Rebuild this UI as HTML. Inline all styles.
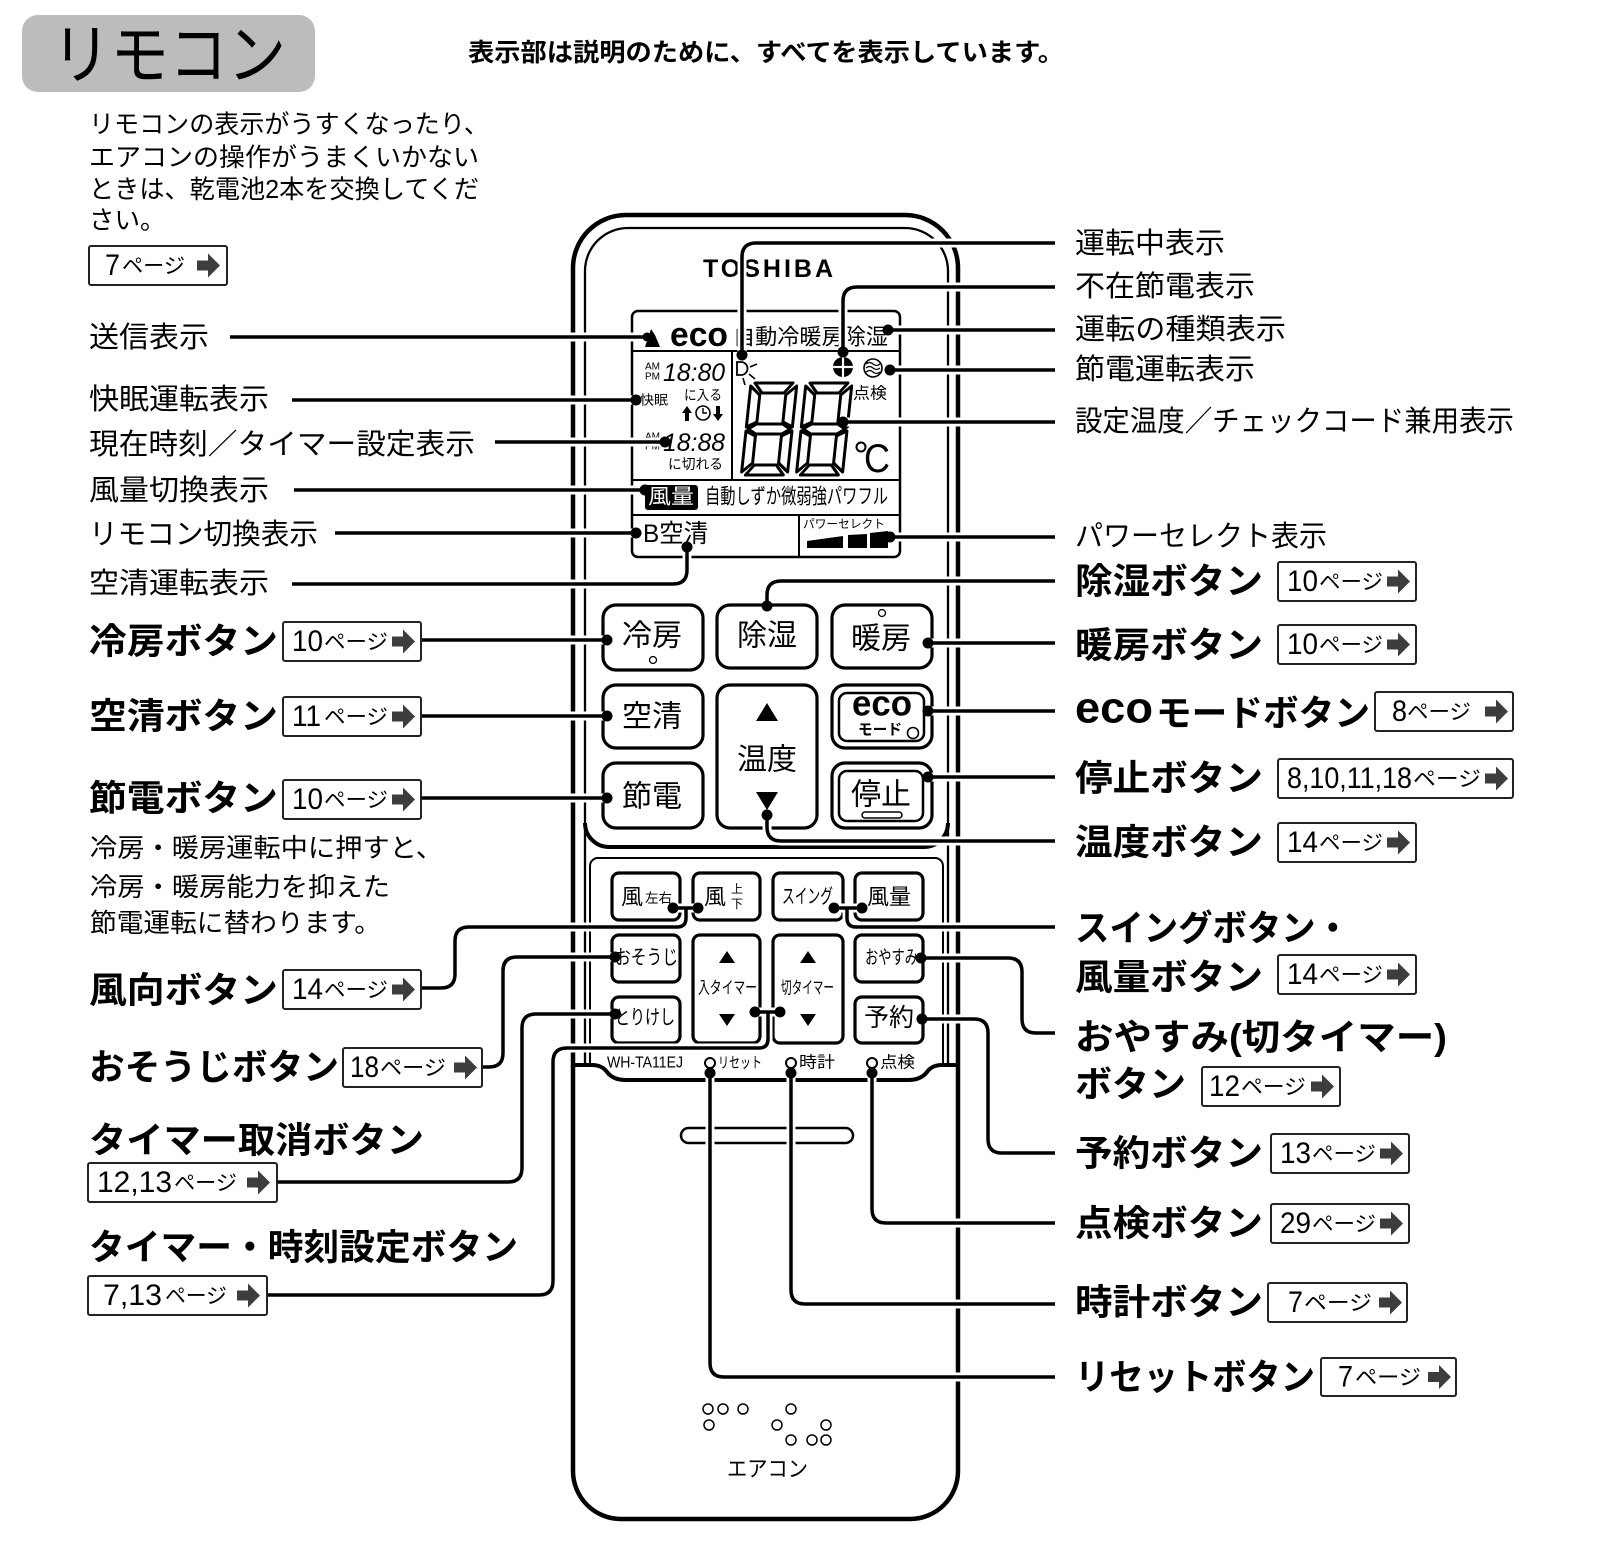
<!DOCTYPE html>
<html><head><meta charset="utf-8">
<style>
html,body{margin:0;padding:0;background:#fff;}
svg{display:block;}
text{font-family:"Liberation Sans","Noto Sans CJK JP",sans-serif;dominant-baseline:central;fill:#000;}
.b{font-weight:bold;}
.m{text-anchor:middle;}
.ln{fill:none;stroke:#000;stroke-width:3.5;stroke-linejoin:round;}
.halo{fill:none;stroke:#fff;stroke-width:9;stroke-linejoin:round;}
.th{fill:none;stroke:#000;stroke-width:4.5;}
.tn{fill:none;stroke:#000;stroke-width:2.3;}
.btn{fill:#fff;stroke:#000;stroke-width:3.2;}
.seg{fill:#fff;stroke:#000;stroke-width:3;stroke-linejoin:round;}
.pb{fill:#fff;stroke:#222;stroke-width:2;}
.ar{fill:#3d3d3d;}
.hole{fill:#fff;stroke:#000;stroke-width:1.5;}
</style></head><body>
<svg width="1606" height="1548" viewBox="0 0 1606 1548" xmlns="http://www.w3.org/2000/svg">

<!-- Title -->
<rect x="22" y="15" width="293" height="77" rx="16" fill="#bcbcbc"/>
<text x="52" y="55" font-size="66" textLength="234" lengthAdjust="spacingAndGlyphs">リモコン</text>
<text x="468" y="53" font-size="25" class="b" textLength="596" lengthAdjust="spacingAndGlyphs">表示部は説明のために、すべてを表示しています。</text>

<!-- Paragraph -->
<text x="89" y="125" font-size="25.5" textLength="400" lengthAdjust="spacingAndGlyphs">リモコンの表示がうすくなったり、</text>
<text x="89" y="158" font-size="25.5" textLength="390" lengthAdjust="spacingAndGlyphs">エアコンの操作がうまくいかない</text>
<text x="89" y="190" font-size="25.5" textLength="390" lengthAdjust="spacingAndGlyphs">ときは、乾電池2本を交換してくだ</text>
<text x="89" y="221" font-size="25.5">さい。</text>

<!-- ============ REMOTE BODY ============ -->
<path class="th" d="M573,268 A53,53 0 0 1 626,215 H905 A53,53 0 0 1 958,268 V1471 A48,48 0 0 1 910,1519 H621 A48,48 0 0 1 573,1471 Z" style="fill:#fff"/>
<path class="tn" d="M585,1065 V271 A43,43 0 0 1 628,228 H905 A43,43 0 0 1 948,271 V1065"/>
<path class="th" style="stroke-width:4" d="M585,823 A24,24 0 0 0 609,847 H924 A24,24 0 0 0 948,823"/>
<path class="tn" style="stroke-width:2" d="M590,1065 V866 A8,8 0 0 1 598,858 H935 A8,8 0 0 1 943,866 V1065"/>
<path class="th" style="stroke-width:4" d="M573,1065 H592 Q602,1065 607,1072 Q613,1080 626,1080 H908 Q921,1080 927,1072 Q932,1065 942,1065 H958"/>

<text x="703" y="269" font-size="25" class="b" textLength="130" lengthAdjust="spacing">TOSHIBA</text>

<!-- LCD -->
<rect x="632" y="311" width="268" height="246" rx="6" fill="#fff" stroke="#000" stroke-width="2.5"/>
<path d="M632,351 H900 M732,351 V480 M632,480 H900 M632,515 H900 M799,515 V557" stroke="#000" stroke-width="2" fill="none"/>
<polygon points="645,347 651,329 655,335 660,347" fill="#000"/>
<text x="670" y="335" font-size="34" class="b" textLength="58" lengthAdjust="spacingAndGlyphs">eco</text>
<text x="733" y="337" font-size="22" textLength="155" lengthAdjust="spacingAndGlyphs">自動冷暖房除湿</text>

<text x="645" y="367" font-size="10" textLength="15" lengthAdjust="spacingAndGlyphs">AM</text>
<text x="645" y="377" font-size="10" textLength="15" lengthAdjust="spacingAndGlyphs">PM</text>
<text x="663" y="373" font-size="25" font-style="italic" textLength="62" lengthAdjust="spacingAndGlyphs">18:80</text>
<text x="640" y="400" font-size="13" textLength="28" lengthAdjust="spacingAndGlyphs">快眠</text>
<text x="684" y="395" font-size="14" textLength="38" lengthAdjust="spacingAndGlyphs">に入る</text>
<polygon points="687,406 682,413 685,413 685,421 689,421 689,413 692,413" fill="#000"/>
<circle cx="703" cy="413" r="7" fill="none" stroke="#000" stroke-width="1.6"/>
<path d="M703,408 V413 H707" stroke="#000" stroke-width="1.4" fill="none"/>
<polygon points="718,421 713,414 716,414 716,406 720,406 720,414 723,414" fill="#000"/>
<text x="645" y="437" font-size="10" textLength="15" lengthAdjust="spacingAndGlyphs">AM</text>
<text x="645" y="447" font-size="10" textLength="15" lengthAdjust="spacingAndGlyphs">PM</text>
<text x="663" y="443" font-size="25" font-style="italic" textLength="62" lengthAdjust="spacingAndGlyphs">18:88</text>
<text x="668" y="464" font-size="14" textLength="55" lengthAdjust="spacingAndGlyphs">に切れる</text>

<!-- running icon -->
<path d="M737,362 H741 A6,6 0 0 1 741,375 H737 Z" fill="none" stroke="#000" stroke-width="1.8"/>
<path d="M750,367 L757,364 M749,374 L755,379 M743,378 L745,385" stroke="#000" stroke-width="1.6"/>
<!-- absent icon -->
<circle cx="843" cy="367" r="10" fill="#000"/>
<path d="M833,367 H853 M843,357 V377" stroke="#fff" stroke-width="2.2"/>
<!-- wave icon -->
<circle cx="873" cy="368" r="9" fill="#fff" stroke="#000" stroke-width="1.6"/>
<path d="M866,364 q3.5,-3 7,0 t7,0 M866,368 q3.5,-3 7,0 t7,0 M866,372 q3.5,-3 7,0 t7,0" fill="none" stroke="#000" stroke-width="1.2"/>
<text x="853" y="394" font-size="16" textLength="34" lengthAdjust="spacingAndGlyphs">点検</text>

<!-- big 88 -->
<g transform="translate(751,383) skewX(-6)">
<polygon class="seg" points="4,0 42,0 34,10 12,10"/>
<polygon class="seg" points="0,3 10,12 10,39 0,44"/>
<polygon class="seg" points="46,3 46,44 36,39 36,12"/>
<polygon class="seg" points="2,46 10,41 36,41 44,46 36,51 10,51"/>
<polygon class="seg" points="0,48 10,53 10,80 0,89"/>
<polygon class="seg" points="46,48 46,89 36,80 36,53"/>
<polygon class="seg" points="12,82 34,82 42,92 4,92"/>
</g>
<g transform="translate(806,383) skewX(-6)">
<polygon class="seg" points="4,0 42,0 34,10 12,10"/>
<polygon class="seg" points="0,3 10,12 10,39 0,44"/>
<polygon class="seg" points="46,3 46,44 36,39 36,12"/>
<polygon class="seg" points="2,46 10,41 36,41 44,46 36,51 10,51"/>
<polygon class="seg" points="0,48 10,53 10,80 0,89"/>
<polygon class="seg" points="46,48 46,89 36,80 36,53"/>
<polygon class="seg" points="12,82 34,82 42,92 4,92"/>
</g>
<circle cx="861" cy="447" r="4.5" fill="none" stroke="#000" stroke-width="2"/>
<text x="864" y="459" font-size="40" textLength="26" lengthAdjust="spacingAndGlyphs">C</text>

<rect x="645" y="485" width="53" height="25" rx="3" fill="#000"/>
<text x="671" y="497" font-size="21" class="m" style="fill:#fff" textLength="46" lengthAdjust="spacingAndGlyphs">風量</text>
<text x="705" y="497" font-size="21" textLength="183" lengthAdjust="spacingAndGlyphs">自動しずか微弱強パワフル</text>
<text x="643" y="534" font-size="25" textLength="65" lengthAdjust="spacingAndGlyphs">B空清</text>
<text x="803" y="524" font-size="12" textLength="82" lengthAdjust="spacingAndGlyphs">パワーセレクト</text>
<polygon points="807,541 843,536 843,548 807,548" fill="#000"/>
<polygon points="848,535 867,534 867,548 848,548" fill="#000"/>
<polygon points="870,533 888,531 888,548 870,548" fill="#000"/>

<!-- upper buttons -->
<rect class="btn" x="603" y="605" width="100" height="65" rx="13"/>
<rect class="btn" x="717" y="605" width="100" height="63" rx="13"/>
<rect class="btn" x="832" y="605" width="100" height="63" rx="13"/>
<rect class="btn" x="603" y="685" width="100" height="63" rx="13"/>
<rect class="btn" x="717" y="685" width="100" height="143" rx="13"/>
<rect class="btn" x="832" y="685" width="100" height="63" rx="13"/>
<rect class="btn" x="839" y="693" width="85" height="48" rx="8" style="stroke-width:2.5"/>
<rect class="btn" x="603" y="763" width="100" height="65" rx="13"/>
<rect class="btn" x="832" y="763" width="100" height="65" rx="13"/>
<rect class="btn" x="839" y="771" width="84" height="50" rx="8" style="stroke-width:2.5"/>

<text x="652" y="636" font-size="30" class="m">冷房</text>
<circle cx="653" cy="660" r="3.5" fill="none" stroke="#000" stroke-width="1.3"/>
<text x="767" y="636" font-size="30" class="m">除湿</text>
<text x="881" y="639" font-size="30" class="m">暖房</text>
<circle cx="882" cy="613" r="3.5" fill="none" stroke="#000" stroke-width="1.3"/>
<text x="652" y="717" font-size="30" class="m">空清</text>
<polygon points="756,721 778,721 767,703" fill="#000"/>
<text x="767" y="760" font-size="30" class="m">温度</text>
<polygon points="756,792 778,792 767,810" fill="#000"/>
<text x="882" y="703" font-size="36" class="b m" textLength="60" lengthAdjust="spacingAndGlyphs">eco</text>
<text x="858" y="730" font-size="15" class="b" textLength="44" lengthAdjust="spacingAndGlyphs">モード</text>
<circle cx="913" cy="733" r="5.5" fill="none" stroke="#000" stroke-width="1.6"/>
<text x="652" y="797" font-size="30" class="m">節電</text>
<text x="881" y="795" font-size="30" class="m">停止</text>
<rect x="862" y="812" width="40" height="6" rx="3" fill="none" stroke="#000" stroke-width="1.5"/>

<!-- lower buttons -->
<rect class="btn" x="612" y="873" width="68" height="47" rx="7"/>
<rect class="btn" x="693" y="873" width="67" height="47" rx="7"/>
<rect class="btn" x="773" y="873" width="70" height="47" rx="7"/>
<rect class="btn" x="855" y="873" width="68" height="47" rx="7"/>
<rect class="btn" x="612" y="935" width="68" height="47" rx="7"/>
<rect class="btn" x="693" y="935" width="67" height="108" rx="7"/>
<rect class="btn" x="773" y="935" width="70" height="108" rx="7"/>
<rect class="btn" x="855" y="935" width="68" height="47" rx="7"/>
<rect class="btn" x="612" y="997" width="68" height="46" rx="7"/>
<rect class="btn" x="855" y="997" width="68" height="46" rx="7"/>

<text x="632" y="897" font-size="22" class="m">風</text>
<text x="645" y="898" font-size="13" textLength="27" lengthAdjust="spacingAndGlyphs">左右</text>
<text x="715" y="897" font-size="22" class="m">風</text>
<text x="737" y="889" font-size="12" class="m">上</text>
<text x="737" y="904" font-size="12" class="m">下</text>
<text x="782" y="897" font-size="20" textLength="51" lengthAdjust="spacingAndGlyphs">スイング</text>
<text x="889" y="897" font-size="22" class="m">風量</text>
<text x="615" y="958" font-size="20" textLength="63" lengthAdjust="spacingAndGlyphs">おそうじ</text>
<polygon points="719,963 735,963 727,951" fill="#000"/>
<text x="698" y="988" font-size="17" textLength="59" lengthAdjust="spacingAndGlyphs">入タイマー</text>
<polygon points="719,1014 735,1014 727,1026" fill="#000"/>
<polygon points="800,963 816,963 808,951" fill="#000"/>
<text x="781" y="988" font-size="17" textLength="53" lengthAdjust="spacingAndGlyphs">切タイマー</text>
<polygon points="800,1014 816,1014 808,1026" fill="#000"/>
<text x="865" y="958" font-size="19" textLength="53" lengthAdjust="spacingAndGlyphs">おやすみ</text>
<text x="615" y="1018" font-size="20" textLength="60" lengthAdjust="spacingAndGlyphs">とりけし</text>
<text x="889" y="1018" font-size="25" class="m">予約</text>

<text x="607" y="1063" font-size="16" textLength="76" lengthAdjust="spacingAndGlyphs">WH-TA11EJ</text>
<circle cx="710" cy="1063" r="5" fill="none" stroke="#000" stroke-width="2"/>
<text x="718" y="1063" font-size="15" textLength="44" lengthAdjust="spacingAndGlyphs">リセット</text>
<circle cx="791" cy="1063" r="5" fill="none" stroke="#000" stroke-width="2"/>
<text x="799" y="1063" font-size="16" textLength="36" lengthAdjust="spacingAndGlyphs">時計</text>
<circle cx="872" cy="1063" r="5" fill="none" stroke="#000" stroke-width="2"/>
<text x="880" y="1063" font-size="16" textLength="35" lengthAdjust="spacingAndGlyphs">点検</text>

<rect x="681" y="1128" width="172" height="15" rx="7.5" fill="none" stroke="#000" stroke-width="2.5"/>

<circle class="hole" cx="708" cy="1409" r="5"/>
<circle class="hole" cx="723" cy="1409" r="5"/>
<circle class="hole" cx="743" cy="1409" r="5"/>
<circle class="hole" cx="709" cy="1425" r="5"/>
<circle class="hole" cx="791" cy="1409" r="5"/>
<circle class="hole" cx="777" cy="1425" r="5"/>
<circle class="hole" cx="826" cy="1425" r="5"/>
<circle class="hole" cx="791" cy="1440" r="5"/>
<circle class="hole" cx="812" cy="1440" r="5"/>
<circle class="hole" cx="826" cy="1440" r="5"/>
<text x="727" y="1469" font-size="22" textLength="81" lengthAdjust="spacingAndGlyphs">エアコン</text>

<!-- ============ CONNECTORS ============ -->
<g class="halo">
<path d="M230,337 H648"/>
<path d="M292,400 H636"/>
<path d="M495,442 H665"/>
<path d="M294,490 H645"/>
<path d="M335,533 H636"/>
<path d="M292,584 H673 Q687,584 687,570 V547"/>
<path d="M421,640 H607"/>
<path d="M421,716 H607"/>
<path d="M421,798 H607"/>
<path d="M421,988 H441 Q455,988 455,974 V941 Q455,927 469,927 H677 Q686,927 686,918 V908 M673,908 H698"/>
<path d="M482,1067 H489 Q503,1067 503,1053 V971 Q503,957 517,957 H615"/>
<path d="M277,1182 H508 Q522,1182 522,1168 V1028 Q522,1014 536,1014 H615"/>
<path d="M267,1295 H539 Q553,1295 553,1281 V1062 Q553,1048 567,1048 H759 Q768,1048 768,1039 V1012 M755,1012 H780"/>
<path d="M1055,243 H756 Q742,243 742,257 V355"/>
<path d="M1055,287 H857 Q843,287 843,301 V352"/>
<path d="M1055,330 H888"/>
<path d="M1055,370 H890"/>
<path d="M1055,422 H843"/>
<path d="M1055,537 H890"/>
<path d="M1055,581 H781 Q767,581 767,595 V606"/>
<path d="M1055,643 H928"/>
<path d="M1055,711 H928"/>
<path d="M1055,777 H928"/>
<path d="M1055,841 H781 Q767,841 767,827 V815"/>
<path d="M1055,927 H856 Q847,927 847,918 V908 M834,908 H862"/>
<path d="M921,958 H1008 Q1022,958 1022,972 V1019 Q1022,1033 1036,1033 H1055"/>
<path d="M922,1019 H974 Q988,1019 988,1033 V1139 Q988,1153 1002,1153 H1055"/>
<path d="M872,1073 V1209 Q872,1223 886,1223 H1055"/>
<path d="M791,1073 V1290 Q791,1304 805,1304 H1055"/>
<path d="M710,1073 V1363 Q710,1377 724,1377 H1055"/>
</g>
<g class="ln">
<path d="M230,337 H648"/>
<path d="M292,400 H636"/>
<path d="M495,442 H665"/>
<path d="M294,490 H645"/>
<path d="M335,533 H636"/>
<path d="M292,584 H673 Q687,584 687,570 V547"/>
<path d="M421,640 H607"/>
<path d="M421,716 H607"/>
<path d="M421,798 H607"/>
<path d="M421,988 H441 Q455,988 455,974 V941 Q455,927 469,927 H677 Q686,927 686,918 V908 M673,908 H698"/>
<path d="M482,1067 H489 Q503,1067 503,1053 V971 Q503,957 517,957 H615"/>
<path d="M277,1182 H508 Q522,1182 522,1168 V1028 Q522,1014 536,1014 H615"/>
<path d="M267,1295 H539 Q553,1295 553,1281 V1062 Q553,1048 567,1048 H759 Q768,1048 768,1039 V1012 M755,1012 H780"/>
<path d="M1055,243 H756 Q742,243 742,257 V355"/>
<path d="M1055,287 H857 Q843,287 843,301 V352"/>
<path d="M1055,330 H888"/>
<path d="M1055,370 H890"/>
<path d="M1055,422 H843"/>
<path d="M1055,537 H890"/>
<path d="M1055,581 H781 Q767,581 767,595 V606"/>
<path d="M1055,643 H928"/>
<path d="M1055,711 H928"/>
<path d="M1055,777 H928"/>
<path d="M1055,841 H781 Q767,841 767,827 V815"/>
<path d="M1055,927 H856 Q847,927 847,918 V908 M834,908 H862"/>
<path d="M921,958 H1008 Q1022,958 1022,972 V1019 Q1022,1033 1036,1033 H1055"/>
<path d="M922,1019 H974 Q988,1019 988,1033 V1139 Q988,1153 1002,1153 H1055"/>
<path d="M872,1073 V1209 Q872,1223 886,1223 H1055"/>
<path d="M791,1073 V1290 Q791,1304 805,1304 H1055"/>
<path d="M710,1073 V1363 Q710,1377 724,1377 H1055"/>
</g>
<g fill="#000">
<circle cx="647" cy="337" r="4.5"/>
<circle cx="636" cy="400" r="5.5"/>
<circle cx="665" cy="442" r="5.5"/>
<circle cx="645" cy="490" r="5.5"/>
<circle cx="636" cy="533" r="5.5"/>
<circle cx="687" cy="547" r="5.5"/>
<circle cx="607" cy="640" r="5.5"/>
<circle cx="607" cy="716" r="5.5"/>
<circle cx="607" cy="798" r="5.5"/>
<circle cx="673" cy="908" r="5.5"/>
<circle cx="698" cy="908" r="5.5"/>
<circle cx="615" cy="957" r="5.5"/>
<circle cx="615" cy="1014" r="5.5"/>
<circle cx="755" cy="1012" r="5.5"/>
<circle cx="780" cy="1012" r="5.5"/>
<circle cx="742" cy="355" r="5.5"/>
<circle cx="843" cy="352" r="5.5"/>
<circle cx="888" cy="330" r="5.5"/>
<circle cx="890" cy="370" r="5.5"/>
<circle cx="843" cy="422" r="5.5"/>
<circle cx="890" cy="537" r="5.5"/>
<circle cx="767" cy="606" r="5.5"/>
<circle cx="928" cy="643" r="5.5"/>
<circle cx="928" cy="711" r="5.5"/>
<circle cx="928" cy="777" r="5.5"/>
<circle cx="767" cy="815" r="5.5"/>
<circle cx="834" cy="908" r="5.5"/>
<circle cx="862" cy="908" r="5.5"/>
<circle cx="921" cy="958" r="5.5"/>
<circle cx="922" cy="1019" r="5.5"/>
<circle cx="872" cy="1073" r="5.5"/>
<circle cx="791" cy="1073" r="5.5"/>
<circle cx="710" cy="1073" r="5.5"/>
</g>

<!-- ============ LEFT LABELS ============ -->
<text x="89" y="338" font-size="29" textLength="120" lengthAdjust="spacingAndGlyphs">送信表示</text>
<text x="89" y="400" font-size="29" textLength="180" lengthAdjust="spacingAndGlyphs">快眠運転表示</text>
<text x="89" y="445" font-size="29" textLength="386" lengthAdjust="spacingAndGlyphs">現在時刻／タイマー設定表示</text>
<text x="89" y="491" font-size="29" textLength="180" lengthAdjust="spacingAndGlyphs">風量切換表示</text>
<text x="89" y="535" font-size="29" textLength="229" lengthAdjust="spacingAndGlyphs">リモコン切換表示</text>
<text x="89" y="584" font-size="29" textLength="180" lengthAdjust="spacingAndGlyphs">空清運転表示</text>

<text x="89" y="641" font-size="36" class="b" textLength="189" lengthAdjust="spacingAndGlyphs">冷房ボタン</text>
<text x="89" y="716" font-size="36" class="b" textLength="189" lengthAdjust="spacingAndGlyphs">空清ボタン</text>
<text x="89" y="798" font-size="36" class="b" textLength="189" lengthAdjust="spacingAndGlyphs">節電ボタン</text>
<text x="90" y="848" font-size="26" textLength="353" lengthAdjust="spacingAndGlyphs">冷房・暖房運転中に押すと、</text>
<text x="90" y="887" font-size="26" textLength="300" lengthAdjust="spacingAndGlyphs">冷房・暖房能力を抑えた</text>
<text x="90" y="923" font-size="26" textLength="291" lengthAdjust="spacingAndGlyphs">節電運転に替わります。</text>
<text x="89" y="990" font-size="36" class="b" textLength="189" lengthAdjust="spacingAndGlyphs">風向ボタン</text>
<text x="89" y="1067" font-size="36" class="b" textLength="250" lengthAdjust="spacingAndGlyphs">おそうじボタン</text>
<text x="89" y="1140" font-size="36" class="b" textLength="335" lengthAdjust="spacingAndGlyphs">タイマー取消ボタン</text>
<text x="89" y="1247" font-size="36" class="b" textLength="429" lengthAdjust="spacingAndGlyphs">タイマー・時刻設定ボタン</text>

<!-- ============ RIGHT LABELS ============ -->
<text x="1075" y="244" font-size="29" textLength="150" lengthAdjust="spacingAndGlyphs">運転中表示</text>
<text x="1075" y="287" font-size="29" textLength="180" lengthAdjust="spacingAndGlyphs">不在節電表示</text>
<text x="1075" y="330" font-size="29" textLength="211" lengthAdjust="spacingAndGlyphs">運転の種類表示</text>
<text x="1075" y="370" font-size="29" textLength="180" lengthAdjust="spacingAndGlyphs">節電運転表示</text>
<text x="1075" y="422" font-size="29" textLength="439" lengthAdjust="spacingAndGlyphs">設定温度／チェックコード兼用表示</text>
<text x="1075" y="537" font-size="29" textLength="252" lengthAdjust="spacingAndGlyphs">パワーセレクト表示</text>

<text x="1075" y="581" font-size="36" class="b" textLength="188" lengthAdjust="spacingAndGlyphs">除湿ボタン</text>
<text x="1075" y="645" font-size="36" class="b" textLength="188" lengthAdjust="spacingAndGlyphs">暖房ボタン</text>
<text x="1075" y="708" font-size="44" class="b" textLength="78" lengthAdjust="spacingAndGlyphs">eco</text>
<text x="1156" y="713" font-size="36" class="b" textLength="214" lengthAdjust="spacingAndGlyphs">モードボタン</text>
<text x="1075" y="778" font-size="36" class="b" textLength="188" lengthAdjust="spacingAndGlyphs">停止ボタン</text>
<text x="1075" y="842" font-size="36" class="b" textLength="188" lengthAdjust="spacingAndGlyphs">温度ボタン</text>
<text x="1075" y="928" font-size="36" class="b" textLength="275" lengthAdjust="spacingAndGlyphs">スイングボタン・</text>
<text x="1075" y="977" font-size="36" class="b" textLength="188" lengthAdjust="spacingAndGlyphs">風量ボタン</text>
<text x="1075" y="1037" font-size="36" class="b" textLength="372" lengthAdjust="spacingAndGlyphs">おやすみ(切タイマー)</text>
<text x="1075" y="1084" font-size="36" class="b" textLength="111" lengthAdjust="spacingAndGlyphs">ボタン</text>
<text x="1075" y="1153" font-size="36" class="b" textLength="188" lengthAdjust="spacingAndGlyphs">予約ボタン</text>
<text x="1075" y="1223" font-size="36" class="b" textLength="188" lengthAdjust="spacingAndGlyphs">点検ボタン</text>
<text x="1075" y="1302" font-size="36" class="b" textLength="188" lengthAdjust="spacingAndGlyphs">時計ボタン</text>
<text x="1075" y="1377" font-size="36" class="b" textLength="240" lengthAdjust="spacingAndGlyphs">リセットボタン</text>

<!-- ============ PAGE BOXES ============ -->
<rect class="pb" x="89" y="246" width="138" height="39" rx="2"/>
<text x="105" y="265.5" font-size="30" textLength="15" lengthAdjust="spacingAndGlyphs">7</text>
<text x="122" y="266.5" font-size="21" textLength="63" lengthAdjust="spacingAndGlyphs">ページ</text>
<path class="ar" d="M197,260.5 h11 v-7 l12,12 l-12,12 v-7 h-11 z"/>

<rect class="pb" x="283" y="622" width="138" height="39" rx="2"/>
<text x="292" y="641.5" font-size="30" textLength="31" lengthAdjust="spacingAndGlyphs">10</text>
<text x="324" y="642.5" font-size="21" textLength="64" lengthAdjust="spacingAndGlyphs">ページ</text>
<path class="ar" d="M392,636.5 h11 v-7 l12,12 l-12,12 v-7 h-11 z"/>

<rect class="pb" x="283" y="697" width="138" height="39" rx="2"/>
<text x="292" y="716.5" font-size="30" textLength="29" lengthAdjust="spacingAndGlyphs">11</text>
<text x="324" y="717.5" font-size="21" textLength="64" lengthAdjust="spacingAndGlyphs">ページ</text>
<path class="ar" d="M392,711.5 h11 v-7 l12,12 l-12,12 v-7 h-11 z"/>

<rect class="pb" x="283" y="780" width="138" height="39" rx="2"/>
<text x="292" y="799.5" font-size="30" textLength="31" lengthAdjust="spacingAndGlyphs">10</text>
<text x="324" y="800.5" font-size="21" textLength="64" lengthAdjust="spacingAndGlyphs">ページ</text>
<path class="ar" d="M392,794.5 h11 v-7 l12,12 l-12,12 v-7 h-11 z"/>

<rect class="pb" x="283" y="970" width="138" height="39" rx="2"/>
<text x="292" y="989.5" font-size="30" textLength="31" lengthAdjust="spacingAndGlyphs">14</text>
<text x="324" y="990.5" font-size="21" textLength="64" lengthAdjust="spacingAndGlyphs">ページ</text>
<path class="ar" d="M392,984.5 h11 v-7 l12,12 l-12,12 v-7 h-11 z"/>

<rect class="pb" x="343" y="1048" width="139" height="39" rx="2"/>
<text x="350" y="1067.5" font-size="30" textLength="29" lengthAdjust="spacingAndGlyphs">18</text>
<text x="380" y="1068.5" font-size="21" textLength="66" lengthAdjust="spacingAndGlyphs">ページ</text>
<path class="ar" d="M454,1062.5 h11 v-7 l12,12 l-12,12 v-7 h-11 z"/>

<rect class="pb" x="88" y="1163" width="189" height="39" rx="2"/>
<text x="97" y="1182.5" font-size="30" textLength="75" lengthAdjust="spacingAndGlyphs">12,13</text>
<text x="174" y="1183.5" font-size="21" textLength="63" lengthAdjust="spacingAndGlyphs">ページ</text>
<path class="ar" d="M247,1177.5 h11 v-7 l12,12 l-12,12 v-7 h-11 z"/>

<rect class="pb" x="88" y="1276" width="179" height="39" rx="2"/>
<text x="103" y="1295.5" font-size="30" textLength="59" lengthAdjust="spacingAndGlyphs">7,13</text>
<text x="165" y="1296.5" font-size="21" textLength="62" lengthAdjust="spacingAndGlyphs">ページ</text>
<path class="ar" d="M237,1290.5 h11 v-7 l12,12 l-12,12 v-7 h-11 z"/>

<rect class="pb" x="1278" y="562" width="138" height="39" rx="2"/>
<text x="1287" y="581.5" font-size="30" textLength="31" lengthAdjust="spacingAndGlyphs">10</text>
<text x="1319" y="582.5" font-size="21" textLength="64" lengthAdjust="spacingAndGlyphs">ページ</text>
<path class="ar" d="M1387,576.5 h11 v-7 l12,12 l-12,12 v-7 h-11 z"/>

<rect class="pb" x="1278" y="625" width="138" height="39" rx="2"/>
<text x="1287" y="644.5" font-size="30" textLength="31" lengthAdjust="spacingAndGlyphs">10</text>
<text x="1319" y="645.5" font-size="21" textLength="64" lengthAdjust="spacingAndGlyphs">ページ</text>
<path class="ar" d="M1387,639.5 h11 v-7 l12,12 l-12,12 v-7 h-11 z"/>

<rect class="pb" x="1375" y="692" width="138" height="39" rx="2"/>
<text x="1392" y="711.5" font-size="30" textLength="15" lengthAdjust="spacingAndGlyphs">8</text>
<text x="1407" y="712.5" font-size="21" textLength="64" lengthAdjust="spacingAndGlyphs">ページ</text>
<path class="ar" d="M1485,706.5 h11 v-7 l12,12 l-12,12 v-7 h-11 z"/>

<rect class="pb" x="1278" y="759" width="235" height="39" rx="2"/>
<text x="1287" y="778.5" font-size="30" textLength="125" lengthAdjust="spacingAndGlyphs">8,10,11,18</text>
<text x="1413" y="779.5" font-size="21" textLength="68" lengthAdjust="spacingAndGlyphs">ページ</text>
<path class="ar" d="M1485,773.5 h11 v-7 l12,12 l-12,12 v-7 h-11 z"/>

<rect class="pb" x="1278" y="823" width="138" height="39" rx="2"/>
<text x="1287" y="842.5" font-size="30" textLength="31" lengthAdjust="spacingAndGlyphs">14</text>
<text x="1319" y="843.5" font-size="21" textLength="64" lengthAdjust="spacingAndGlyphs">ページ</text>
<path class="ar" d="M1387,837.5 h11 v-7 l12,12 l-12,12 v-7 h-11 z"/>

<rect class="pb" x="1278" y="955" width="138" height="39" rx="2"/>
<text x="1287" y="974.5" font-size="30" textLength="31" lengthAdjust="spacingAndGlyphs">14</text>
<text x="1319" y="975.5" font-size="21" textLength="64" lengthAdjust="spacingAndGlyphs">ページ</text>
<path class="ar" d="M1387,969.5 h11 v-7 l12,12 l-12,12 v-7 h-11 z"/>

<rect class="pb" x="1202" y="1067" width="138" height="39" rx="2"/>
<text x="1209" y="1086.5" font-size="30" textLength="31" lengthAdjust="spacingAndGlyphs">12</text>
<text x="1241" y="1087.5" font-size="21" textLength="65" lengthAdjust="spacingAndGlyphs">ページ</text>
<path class="ar" d="M1311,1081.5 h11 v-7 l12,12 l-12,12 v-7 h-11 z"/>

<rect class="pb" x="1271" y="1134" width="138" height="39" rx="2"/>
<text x="1280" y="1153.5" font-size="30" textLength="31" lengthAdjust="spacingAndGlyphs">13</text>
<text x="1312" y="1154.5" font-size="21" textLength="64" lengthAdjust="spacingAndGlyphs">ページ</text>
<path class="ar" d="M1380,1148.5 h11 v-7 l12,12 l-12,12 v-7 h-11 z"/>

<rect class="pb" x="1271" y="1204" width="138" height="39" rx="2"/>
<text x="1280" y="1223.5" font-size="30" textLength="31" lengthAdjust="spacingAndGlyphs">29</text>
<text x="1312" y="1224.5" font-size="21" textLength="64" lengthAdjust="spacingAndGlyphs">ページ</text>
<path class="ar" d="M1380,1218.5 h11 v-7 l12,12 l-12,12 v-7 h-11 z"/>

<rect class="pb" x="1268" y="1283" width="139" height="39" rx="2"/>
<text x="1288" y="1302.5" font-size="30" textLength="15" lengthAdjust="spacingAndGlyphs">7</text>
<text x="1304" y="1303.5" font-size="21" textLength="68" lengthAdjust="spacingAndGlyphs">ページ</text>
<path class="ar" d="M1379,1297.5 h11 v-7 l12,12 l-12,12 v-7 h-11 z"/>

<rect class="pb" x="1321" y="1358" width="135" height="38" rx="2"/>
<text x="1338" y="1377" font-size="30" textLength="15" lengthAdjust="spacingAndGlyphs">7</text>
<text x="1355" y="1378" font-size="21" textLength="66" lengthAdjust="spacingAndGlyphs">ページ</text>
<path class="ar" d="M1428,1372 h11 v-7 l12,12 l-12,12 v-7 h-11 z"/>

</svg>
</body></html>
